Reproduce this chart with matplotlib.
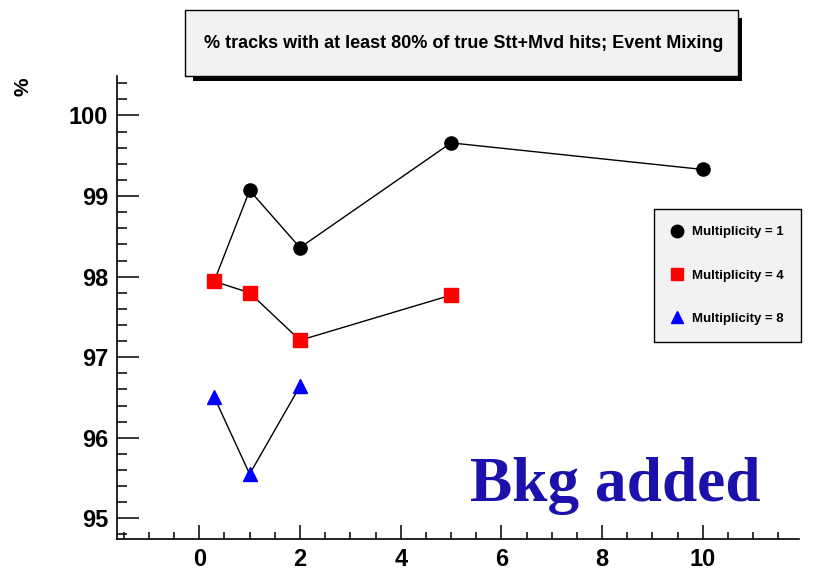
import matplotlib
matplotlib.use("Agg")
import matplotlib.pyplot as plt
from matplotlib.patches import Rectangle
from matplotlib.ticker import MultipleLocator
from matplotlib.lines import Line2D

# Efficiency (%) versus x for three track multiplicities
x_m1 = [0.3, 1, 2, 5, 10]
y_m1 = [97.95, 99.07, 98.36, 99.66, 99.33]

x_m4 = [0.3, 1, 2, 5]
y_m4 = [97.94, 97.80, 97.21, 97.77]

x_m8 = [0.3, 1, 2]
y_m8 = [96.50, 95.55, 96.64]

labels = ["Multiplicity = 1", "Multiplicity = 4", "Multiplicity = 8"]
title = "% tracks with at least 80% of true Stt+Mvd hits; Event Mixing"

W, H = 839, 569
fig = plt.figure(figsize=(W / 100, H / 100), dpi=100)
fig.patch.set_facecolor("white")

def fx(px):
    return px / W

def fy(py):
    return 1 - py / H

ax = fig.add_axes([fx(116.7), fy(539.3), fx(799) - fx(116.7), fy(76) - fy(539.3)])
ax.set_xlim(-1.64, 11.91)
ax.set_ylim(94.74, 100.49)

for s in ("top", "right"):
    ax.spines[s].set_visible(False)
for s in ("left", "bottom"):
    ax.spines[s].set_linewidth(1.2)

ax.xaxis.set_major_locator(MultipleLocator(2))
ax.xaxis.set_minor_locator(MultipleLocator(0.5))
ax.yaxis.set_major_locator(MultipleLocator(1))
ax.yaxis.set_minor_locator(MultipleLocator(0.2))
ax.tick_params(axis="x", which="major", direction="in", length=10, width=1.1, pad=6)
ax.tick_params(axis="x", which="minor", direction="in", length=5, width=1.1)
ax.tick_params(axis="y", which="major", direction="in", length=15.5, width=1.1, pad=6)
ax.tick_params(axis="y", which="minor", direction="in", length=7.5, width=1.1)
for lab in ax.get_xticklabels() + ax.get_yticklabels():
    lab.set_fontfamily("Liberation Sans")
    lab.set_fontweight("bold")
    lab.set_fontsize(17)

ax.plot(x_m1, y_m1, color="black", lw=1.0, marker="o", ms=9.5,
        mfc="black", mec="black", zorder=3)
ax.plot(x_m4, y_m4, color="black", lw=1.0, marker="s", ms=9.5,
        mfc="#ff0000", mec="#ff0000", zorder=4)
ax.plot(x_m8, y_m8, color="black", lw=1.0, marker="^", ms=9.5,
        mfc="#0000ff", mec="#0000ff", zorder=4)

# Legend box
handles = [
    Line2D([], [], ls="none", marker="o", ms=9, mfc="black", mec="black"),
    Line2D([], [], ls="none", marker="s", ms=9, mfc="#ff0000", mec="#ff0000"),
    Line2D([], [], ls="none", marker="^", ms=8.5, mfc="#0000ff", mec="#0000ff"),
]
leg = ax.legend(handles, labels, loc="upper left",
                bbox_to_anchor=(fx(654), fy(209)), bbox_transform=fig.transFigure,
                prop={"family": "Liberation Sans", "weight": "bold", "size": 9.5},
                frameon=True, fancybox=False, framealpha=1,
                facecolor="#f2f2f2", edgecolor="black",
                borderpad=1.3, labelspacing=2.35, handlelength=0.85,
                handletextpad=0.75, borderaxespad=0)
leg.get_frame().set_linewidth(1.0)

# Title box with drop shadow
bx0, bx1, by0, by1 = 185, 738, 10, 76
fig.patches.append(Rectangle((fx(bx0 + 8), fy(by1 + 5)), fx(bx1 + 4) - fx(bx0 + 8),
                             fy(by0 + 8) - fy(by1 + 5), transform=fig.transFigure,
                             facecolor="black", edgecolor="none", zorder=1))
fig.patches.append(Rectangle((fx(bx0), fy(by1)), fx(bx1) - fx(bx0), fy(by0) - fy(by1),
                             transform=fig.transFigure, facecolor="#f2f2f2",
                             edgecolor="black", linewidth=1.0, zorder=2))
fig.text(fx((bx0 + bx1) / 2 + 2), fy((by0 + by1) / 2), title, ha="center", va="center",
         family="Liberation Sans", weight="bold", fontsize=13, zorder=3)

# Y axis label
fig.text(fx(23), fy(87), "%", rotation=90, ha="center", va="center",
         family="Liberation Sans", weight="bold", fontsize=15)

# Annotation
fig.text(fx(470), fy(501), "Bkg added", ha="left", va="baseline",
         family="Liberation Serif", weight="bold", fontsize=45.6, color="#1a12aa")

fig.savefig("out.png", dpi=100)
